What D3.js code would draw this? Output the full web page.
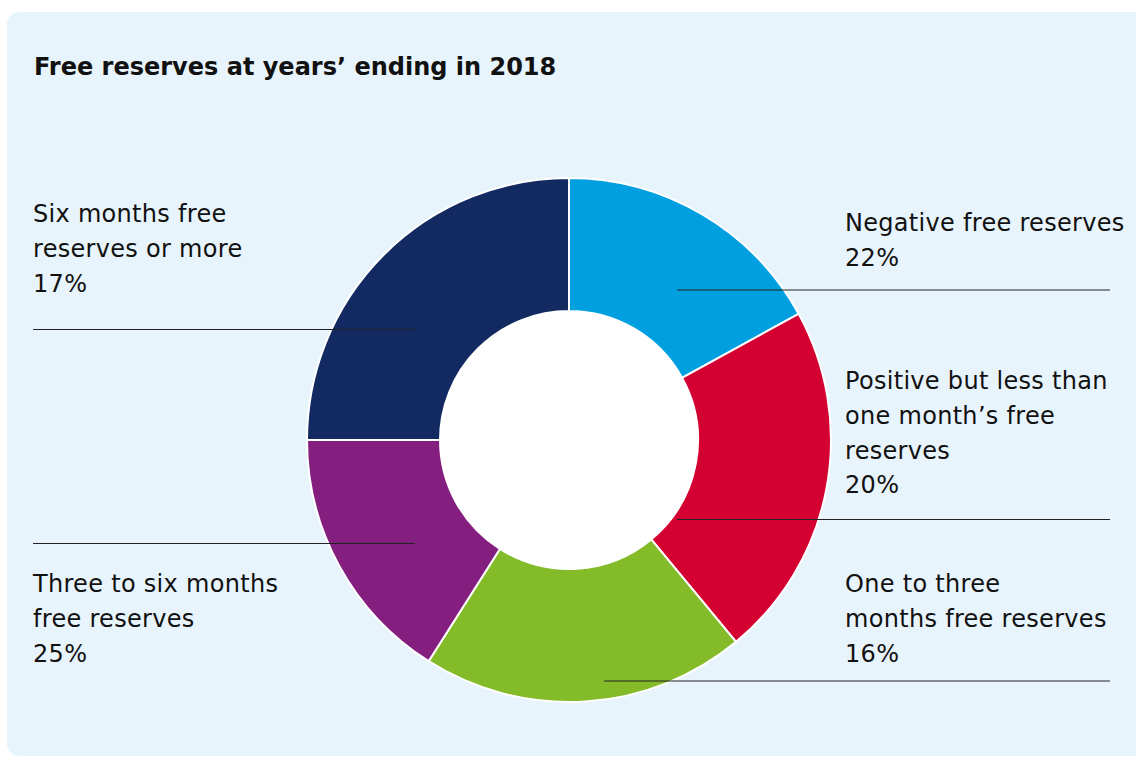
<!DOCTYPE html>
<html>
<head>
<meta charset="utf-8">
<script src="https://cdn.jsdelivr.net/npm/d3@7"></script>
<style>
  html, body { margin: 0; padding: 0; background: #ffffff; }
  svg { display: block; }
</style>
</head>
<body>
<svg id="chart" width="1136" height="758"></svg>
<script>
// ---- Data ----
const title = "Free reserves at years’ ending in 2018";
const categories = [
  "Negative free reserves",
  "Positive but less than one month’s free reserves",
  "One to three months free reserves",
  "Three to six months free reserves",
  "Six months free reserves or more"
];
// Slice shares as drawn (clockwise from 12 o'clock)
const sliceValues = [17, 22, 20, 16, 25];
// Percentages as printed in the labels
const labelPercents = ["22%", "20%", "16%", "25%", "17%"];
// Label text broken into lines as printed
const labelLines = [
  ["Negative free reserves"],
  ["Positive but less than", "one month’s free", "reserves"],
  ["One to three", "months free reserves"],
  ["Three to six months", "free reserves"],
  ["Six months free", "reserves or more"]
];
const colors = ["#009fdf", "#d50032", "#84bb29", "#841e7f", "#122a61"];

// ---- Layout ----
const W = 1136, H = 758;
const cx = 569, cy = 440, rOuter = 262, rInner = 129;
const fontFamily = "'DejaVu Sans', sans-serif";
const lineH = 34.8;
const layout = [
  { tx: 845, ty: 231, lx1: 677, lx2: 1110, ly: 290 },
  { tx: 845, ty: 389, lx1: 677, lx2: 1110, ly: 519.5 },
  { tx: 845, ty: 592, lx1: 604, lx2: 1110, ly: 681 },
  { tx: 33,  ty: 592, lx1: 33,  lx2: 415,  ly: 543.5 },
  { tx: 33,  ty: 222, lx1: 33,  lx2: 415,  ly: 329.5 }
];

const svg = d3.select("#chart");

// panel
svg.append("rect")
  .attr("x", 7).attr("y", 12)
  .attr("width", 1150).attr("height", 744)
  .attr("rx", 12).attr("ry", 12)
  .attr("fill", "#e8f4fc");

// title
svg.append("text")
  .attr("x", 34).attr("y", 74.5)
  .attr("font-family", fontFamily)
  .attr("font-weight", "bold")
  .attr("font-size", 24)
  .attr("fill", "#111")
  .text(title);

// donut
const pie = d3.pie().sort(null).value(d => d).startAngle(0).endAngle(2 * Math.PI);
const arc = d3.arc().innerRadius(rInner).outerRadius(rOuter);
const g = svg.append("g").attr("transform", `translate(${cx},${cy})`);

g.append("circle").attr("r", rInner).attr("fill", "#ffffff");

g.selectAll("path.slice")
  .data(pie(sliceValues))
  .join("path")
  .attr("class", "slice")
  .attr("d", arc)
  .attr("fill", (d, i) => colors[i])
  .attr("stroke", "#ffffff")
  .attr("stroke-width", 2)
  .attr("stroke-linejoin", "round");

// leader lines
svg.selectAll("line.leader")
  .data(layout)
  .join("line")
  .attr("class", "leader")
  .attr("x1", d => d.lx1).attr("x2", d => d.lx2)
  .attr("y1", d => d.ly).attr("y2", d => d.ly)
  .attr("stroke", "#222")
  .attr("stroke-width", 1);

// labels
categories.forEach((c, i) => {
  const L = layout[i];
  const lines = labelLines[i].concat([labelPercents[i]]);
  const t = svg.append("text")
    .attr("font-family", fontFamily)
    .attr("font-size", 24)
    .attr("letter-spacing", 0.3)
    .attr("fill", "#111");
  lines.forEach((ln, j) => {
    t.append("tspan")
      .attr("x", L.tx)
      .attr("y", L.ty + j * lineH)
      .text(ln);
  });
});
</script>
</body>
</html>
